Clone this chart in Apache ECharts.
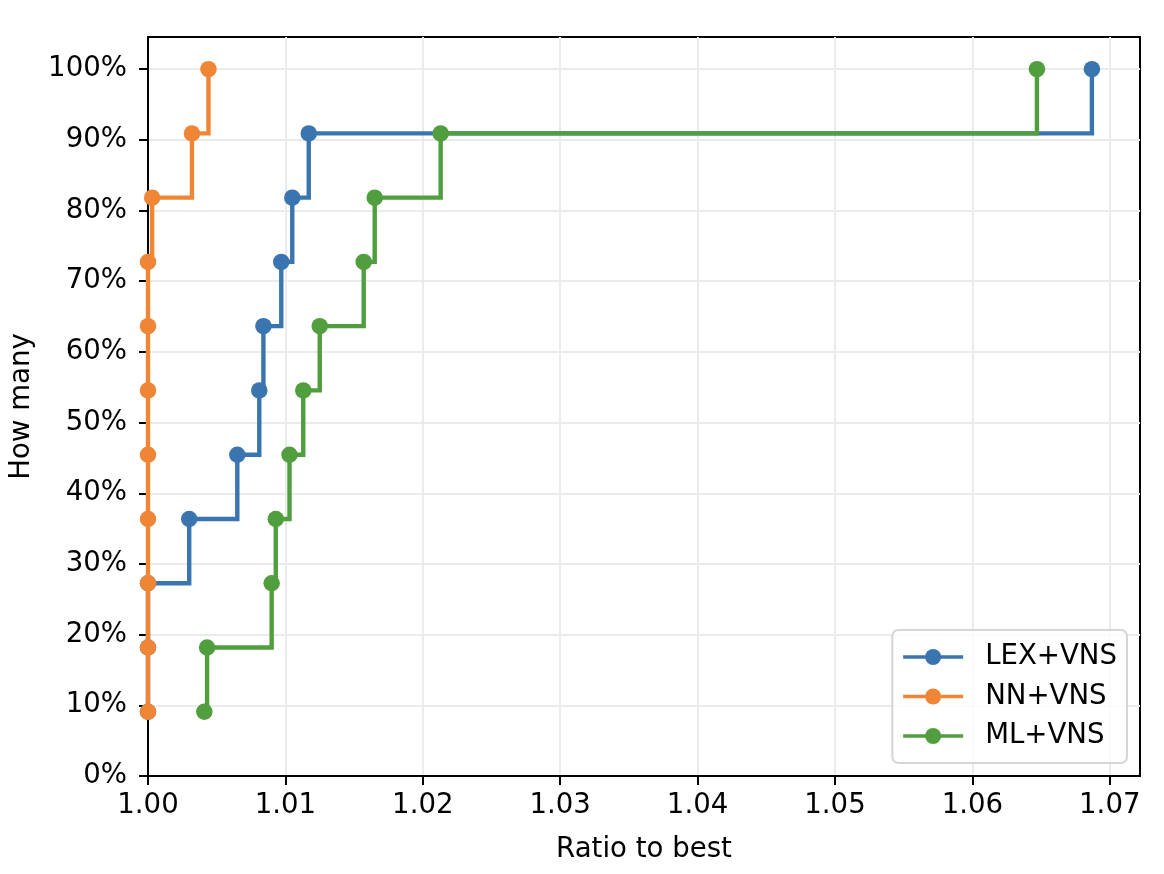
<!DOCTYPE html>
<html>
<head>
<meta charset="utf-8">
<script src="https://cdn.jsdelivr.net/npm/echarts@6/dist/echarts.min.js"></script>
<style>
html,body{margin:0;padding:0;background:#fff;}
#chart{width:1164px;height:874px;}
</style>
</head>
<body>
<div id="chart"></div>
<script>
var seriesNames = ['LEX+VNS', 'NN+VNS', 'ML+VNS'];
var yValues = [9.09, 18.18, 27.27, 36.36, 45.45, 54.55, 63.64, 72.73, 81.82, 90.91, 100];
var lexX = [1.0, 1.0, 1.0, 1.0030, 1.0065, 1.0081, 1.0084, 1.0097, 1.0105, 1.0117, 1.0687];
var nnX  = [1.0, 1.0, 1.0, 1.0, 1.0, 1.0, 1.0, 1.0, 1.0003, 1.0032, 1.0044];
var mlX  = [1.0041, 1.0043, 1.0090, 1.0093, 1.0103, 1.0113, 1.0125, 1.0157, 1.0165, 1.0213, 1.0647];
var xTicks = [1.00, 1.01, 1.02, 1.03, 1.04, 1.05, 1.06, 1.07];
var yTicks = [0, 10, 20, 30, 40, 50, 60, 70, 80, 90, 100];
var colors = ['#3B75AF', '#EF8636', '#519E3E'];

var FONT = 'DejaVu Sans';
var FS = 27.6;
var LW = 4.4;

function pairs(xs) {
  return xs.map(function (x, i) { return [x, yValues[i]]; });
}
var allX = [lexX, nnX, mlX];

var chart = echarts.init(document.getElementById('chart'), null, {renderer: 'canvas'});
chart.setOption({
  animation: false,
  backgroundColor: '#ffffff',
  color: colors,
  grid: {
    left: 148, right: 24, top: 37, bottom: 98,
    show: true, borderColor: '#000', borderWidth: 2, backgroundColor: 'transparent'
  },
  legend: {
    orient: 'vertical',
    right: 37, bottom: 111,
    padding: [12, 10, 12, 9],
    itemWidth: 60, itemHeight: 20,
    itemGap: 9.5,
    backgroundColor: 'rgba(255,255,255,0.8)',
    borderColor: '#d6d6d6', borderWidth: 2, borderRadius: 6,
    lineStyle: {width: 3.6},
    textStyle: {fontFamily: FONT, fontSize: FS, color: '#000', lineHeight: 30, padding: [0, 0, 0, 17]},
    data: seriesNames
  },
  xAxis: {
    type: 'value',
    min: 1.0, max: 1.0722,
    interval: 0.01,
    name: 'Ratio to best',
    nameLocation: 'middle',
    nameGap: 60,
    nameTextStyle: {fontFamily: FONT, fontSize: FS, color: '#000'},
    axisLine: {show: true, onZero: false, lineStyle: {color: '#000', width: 2}},
    axisTick: {show: true, inside: false, length: 9, lineStyle: {color: '#000', width: 2}, customValues: xTicks},
    axisLabel: {
      fontFamily: FONT, fontSize: FS, color: '#000', margin: 16,
      customValues: xTicks,
      formatter: function (v) { return v.toFixed(2); }
    },
    splitLine: {show: true, lineStyle: {color: '#ebebeb', width: 2}}
  },
  yAxis: {
    type: 'value',
    min: 0, max: 104.545,
    interval: 10,
    name: 'How many',
    nameLocation: 'middle',
    nameGap: 112,
    nameTextStyle: {fontFamily: FONT, fontSize: FS, color: '#000'},
    axisLine: {show: true, onZero: false, lineStyle: {color: '#000', width: 2}},
    axisTick: {show: true, inside: false, length: 9, lineStyle: {color: '#000', width: 2}, customValues: yTicks},
    axisLabel: {
      fontFamily: FONT, fontSize: FS, color: '#000', margin: 21,
      customValues: yTicks,
      formatter: function (v) { return Math.round(v) + '%'; }
    },
    splitLine: {show: true, lineStyle: {color: '#ebebeb', width: 2}}
  },
  series: seriesNames.map(function (name, i) {
    return {
      name: name,
      type: 'line',
      step: 'end',
      data: pairs(allX[i]),
      symbol: 'circle',
      symbolSize: 16.5,
      showAllSymbol: true,
      clip: false,
      lineStyle: {width: LW, color: colors[i], cap: 'butt', join: 'miter'},
      emphasis: {disabled: true},
      itemStyle: {color: colors[i]},
      z: 2 + i
    };
  })
});
</script>
</body>
</html>
